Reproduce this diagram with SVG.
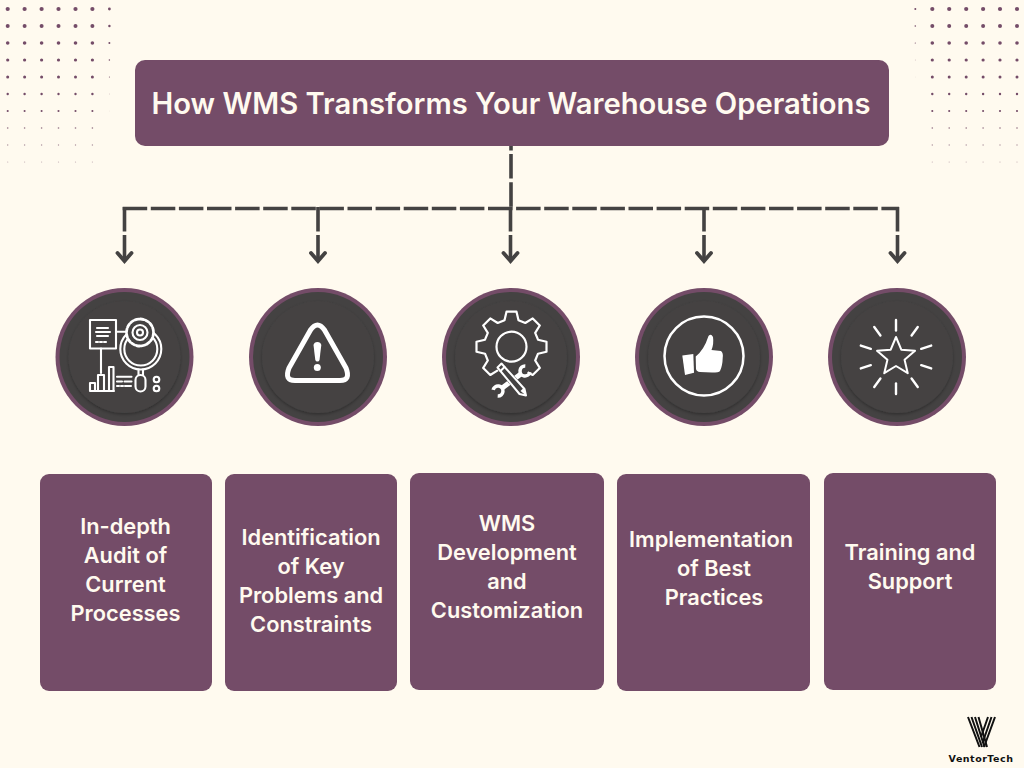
<svg xmlns="http://www.w3.org/2000/svg" width="1024" height="768" viewBox="0 0 1024 768">
<style>
.card{fill:#744c68}
.t{font-family:Inter,"Liberation Sans",sans-serif;font-weight:600;fill:#fffaef;text-anchor:middle}
.cl{font-size:21.8px}
.ln{fill:none;stroke:#444242;stroke-width:3.6;stroke-dasharray:24.5 3.6}
.hd{fill:none;stroke:#444242;stroke-width:3.8;stroke-linecap:round;stroke-linejoin:miter}
.ic{fill:none;stroke:#fff;stroke-linecap:round;stroke-linejoin:round}
.dot{fill:#744c68}
</style>
<defs>
<filter id="sh" x="-20%" y="-20%" width="140%" height="140%"><feDropShadow dx="0" dy="1.5" stdDeviation="1.6" flood-color="#000" flood-opacity=".3"/></filter>
<g id="badge">
<circle r="69" fill="#744c68"/>
<circle r="65" fill="#444242"/>
<circle r="56" fill="#444242" filter="url(#sh)"/>
</g>
<g id="dotcol" class="dot">
<circle cy="9" r="2.1"/><circle cy="26" r="2"/><circle cy="43" r="1.8"/><circle cy="60" r="1.6"/><circle cy="77" r="1.5"/><circle cy="94" r="1.2"/><circle cy="111" r="1.05"/><circle cy="128" r=".8" opacity=".8"/><circle cy="145" r=".7" opacity=".6"/><circle cy="162" r=".6" opacity=".45"/>
</g>
<g id="dotfadeL" class="dot">
<circle cy="9" r="1.4"/><circle cy="26" r="1.2"/><circle cy="43" r="1"/><circle cy="60" r=".75"/><circle cy="77" r=".55"/><circle cy="94" r=".4" opacity=".5"/><circle cy="111" r=".3" opacity=".35"/>
</g>
<g id="dotfadeR" class="dot">
<circle cy="9" r="1"/><circle cy="26" r=".8"/><circle cy="43" r=".6"/><circle cy="60" r=".4" opacity=".6"/><circle cy="77" r=".3" opacity=".3"/>
</g>
</defs>
<rect width="1024" height="768" fill="#fffaef"/>
<g id="dots-left">
<use href="#dotcol" x="7.7"/><use href="#dotcol" x="24.6"/><use href="#dotcol" x="41.6"/><use href="#dotcol" x="58.5"/><use href="#dotcol" x="75.5"/><use href="#dotcol" x="92.4"/><use href="#dotfadeL" x="109.4"/>
</g>
<g id="dots-right">
<use href="#dotfadeR" x="915.3"/><use href="#dotcol" x="932.3"/><use href="#dotcol" x="949.2"/><use href="#dotcol" x="966.2"/><use href="#dotcol" x="983.1"/><use href="#dotcol" x="1000"/><use href="#dotcol" x="1017"/>
</g>
<g id="connectors">
<path class="ln" d="M511 126V208"/>
<path class="ln" d="M122.700 208.500H899"/>
<path class="ln" d="M124.500 207V260M318 207V260M510.500 207V260M704 207V260M897.500 207V260"/>
<path class="hd" d="M117.500 253L124.500 261L131.500 253M311 253L318 261L325 253M503.500 253L510.500 261L517.500 253M697 253L704 261L711 253M890.500 253L897.500 261L904.500 253"/>
</g>
<g id="title">
<rect class="card" x="135" y="60" width="754" height="86" rx="10"/>
<text class="t" x="511" y="113.500" font-size="29.200">How WMS Transforms Your Warehouse Operations</text>
</g>
<g id="icon-audit">
<use href="#badge" x="124.500" y="357"/>
<g class="ic" stroke-width="2.100">
<rect x="90" y="320" width="26" height="28.500"/>
<path d="M97 328h11M96 332h14M97 336h11M96 342h2M100 342h2M104 342h2"/>
<path d="M116 331.700h12M101 348.500V373"/>
<circle cx="140.800" cy="349" r="20.500"/><circle cx="140.800" cy="349" r="16.500"/>
<circle cx="140" cy="332.500" r="13.500" fill="#444242" stroke-dasharray="3.500 1.800" stroke-width="2.800"/>
<circle cx="140" cy="332.500" r="7.500" fill="#444242"/><circle cx="140" cy="332.500" r="3"/>
<path d="M138.500 369.500V375M143 369.500V375"/>
<rect x="135.500" y="375" width="10" height="16.500" rx="5"/>
<path d="M90 391V383h5V391M98 391V375h6V391M109 391V367h4.500V391M90 391h24"/>
<path d="M117 376.700h14.500M117 381.500h5M124.500 381.500h7M117 386h2M121 386h2M125 386h6"/>
<circle cx="156.500" cy="379.500" r="2.800"/><circle cx="156.500" cy="388.500" r="2.800"/>
</g>
</g>
<g id="icon-warning">
<use href="#badge" x="318" y="357"/>
<path class="ic" stroke-width="5" d="M310.500 330Q317.500 320 324.500 330L346 368Q351 380.500 340 380.500H295Q284 380.500 289 368Z"/>
<path fill="#fff" d="M313.500 345a4 4 0 0 1 7.800 0L319.500 360a2.200 2.200 0 0 1 -4.200 0Z"/>
<circle cx="317.300" cy="367.500" r="3.500" fill="#fff"/>
</g>
<g id="icon-gear">
<use href="#badge" x="511" y="357"/>
<g transform="translate(511.500 346.700)" class="ic" stroke-width="2.200">
<circle r="15"/>
<path d="M-13.790 23.690L-21.210 28.280L-28.280 21.210L-23.690 13.790L-26.500 7L-35 5L-35 -5L-26.500 -7L-23.690 -13.790L-28.280 -21.210L-21.210 -28.280L-13.790 -23.690L-7 -26.500L-5 -35L5 -35L7 -26.500L13.790 -23.690L21.210 -28.280L28.280 -21.210L23.690 -13.790L26.500 -7L35 -5L35 5L26.500 7L23.690 13.790L28.280 21.210L21.210 28.280L17 26"/>
</g>
<g id="tools">
<path fill="none" stroke="#fff" stroke-width="5" d="M521.500 373.500L501.500 388.500"/>
<path fill="none" stroke="#fff" stroke-width="3.500" d="M525.300 366A5 5 0 1 0 529.900 372.100"/>
<path fill="none" stroke="#fff" stroke-width="3.500" d="M497.700 396A5 5 0 1 0 493.100 389.900"/>
<path stroke="#444242" stroke-width="2.500" fill="#444242" d="M497.500 367.500l4-4 23 25.500 1.500 6.500-6.500-1.500Z"/>
<path class="ic" stroke-width="2" d="M497.500 367.500l4-4 23 25.500 1.500 6.500-6.500-1.500Z"/>
<path class="ic" stroke-width="2" d="M500.500 371l4-4"/>
<path fill="#fff" d="M520.500 391l3.500-3.500 2 8Z"/>
</g>
</g>
<g id="icon-thumb">
<use href="#badge" x="704" y="357"/>
<circle class="ic" stroke-width="2.500" cx="704" cy="356" r="39.500"/>
<path fill="#fff" d="M682.300 355.500L693.300 354L694 372.700L685 375Z"/>
<path fill="#fff" d="M695.700 356.500Q704 350 708.500 336Q711 333 713 337Q714 344 711.500 350L721 351Q723.500 353 722.700 358Q722.500 366 720 371Q719 372.500 712 372.500L700 372Q696.500 371.500 696 369Z"/>
</g>
<g id="icon-star">
<use href="#badge" x="897" y="357"/>
<g transform="translate(896 357)">
<path class="ic" stroke-width="2" d="M0 -20L5.290 -7.280L19.020 -6.180L8.560 2.780L11.760 16.180L0 9L-11.760 16.180L-8.560 2.780L-19.020 -6.180L-5.290 -7.280Z"/>
<g class="ic" stroke-width="2.400">
<path d="M0 -26.500V-37"/><path transform="rotate(36)" d="M0 -26.500V-37"/><path transform="rotate(72)" d="M0 -26.500V-37"/><path transform="rotate(108)" d="M0 -26.500V-37"/><path transform="rotate(144)" d="M0 -26.500V-37"/><path transform="rotate(180)" d="M0 -26.500V-37"/><path transform="rotate(216)" d="M0 -26.500V-37"/><path transform="rotate(252)" d="M0 -26.500V-37"/><path transform="rotate(288)" d="M0 -26.500V-37"/><path transform="rotate(324)" d="M0 -26.500V-37"/>
</g>
</g>
</g>
<g id="card-1"><rect class="card" x="40" y="474" width="172" height="217" rx="9"/>
<text class="t cl"><tspan x="125.500" y="534">In-depth</tspan><tspan x="125.500" y="563">Audit of</tspan><tspan x="125.500" y="592">Current</tspan><tspan x="125.500" y="621">Processes</tspan></text></g>
<g id="card-2"><rect class="card" x="225" y="474" width="172" height="217" rx="9"/>
<text class="t cl"><tspan x="311" y="545">Identification</tspan><tspan x="311" y="574">of Key</tspan><tspan x="311" y="603">Problems and</tspan><tspan x="311" y="632">Constraints</tspan></text></g>
<g id="card-3"><rect class="card" x="410" y="473" width="194" height="217" rx="9"/>
<text class="t cl"><tspan x="507" y="531">WMS</tspan><tspan x="507" y="560">Development</tspan><tspan x="507" y="589">and</tspan><tspan x="507" y="618">Customization</tspan></text></g>
<g id="card-4"><rect class="card" x="617" y="474" width="193" height="217" rx="9"/>
<text class="t cl"><tspan x="711" y="547">Implementation</tspan><tspan x="714" y="576">of Best</tspan><tspan x="714" y="605">Practices</tspan></text></g>
<g id="card-5"><rect class="card" x="824" y="473" width="172" height="217" rx="9"/>
<text class="t cl"><tspan x="910" y="560">Training and</tspan><tspan x="910" y="589">Support</tspan></text></g>
<g id="logo">
<g fill="none" stroke="#111" stroke-width="2">
<path d="M968 717L979.500 747M971.500 717L982 747M975 717L984.500 747M978.500 717L987 747"/>
<path d="M995 717L984 747M991.500 717L982.500 743M988 717L981 737"/>
</g>
<text x="981" y="761.500" text-anchor="middle" font-family="'DejaVu Sans',sans-serif" font-weight="700" font-size="9.500" letter-spacing=".5" fill="#111">VentorTech</text>
</g>
</svg>
